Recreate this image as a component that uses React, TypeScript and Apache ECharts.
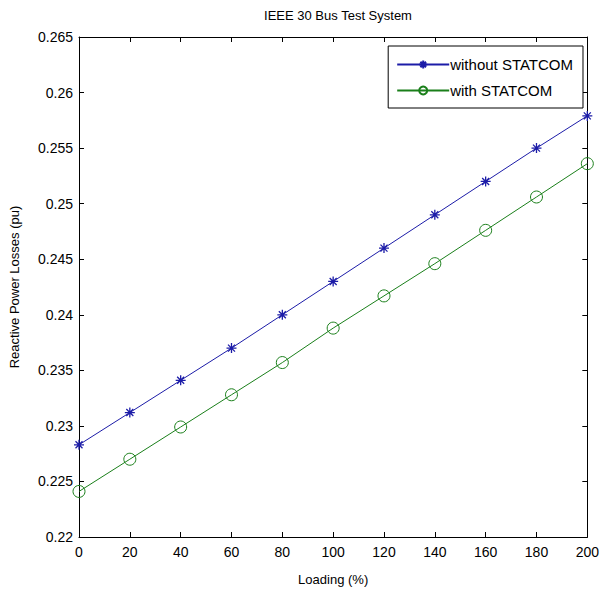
import React, { useEffect, useRef } from "react";
import * as echarts from "echarts";

const loading = [0, 20, 40, 60, 80, 100, 120, 140, 160, 180, 200];
const withoutStatcom = [0.2283, 0.2312, 0.2341, 0.2370, 0.2400, 0.2430, 0.2460, 0.2490, 0.2520, 0.2550, 0.2579];
const withStatcom = [0.2241, 0.2270, 0.2299, 0.2328, 0.2357, 0.2388, 0.2417, 0.2446, 0.2476, 0.2506, 0.2536];

const FONT = "Liberation Sans";
const STAR = "path://M0,5L10,5M5,0L5,10M1.5,1.5L8.5,8.5M1.5,8.5L8.5,1.5";
const BLUE = "#1c1ca8";
const GREEN = "#1a7f1a";

export default function App() {
  const ref = useRef<HTMLDivElement>(null);
  useEffect(() => {
    const chart = echarts.init(ref.current!, undefined, { renderer: "svg" });
    const axisCommon = {
      axisLine: { show: true, onZero: false, lineStyle: { color: "#000", width: 1 } },
      axisTick: { show: true, inside: true, length: 5, lineStyle: { color: "#000" } },
      splitLine: { show: false },
    };
    chart.setOption({
      animation: false,
      backgroundColor: "#fff",
      title: {
        text: "IEEE 30 Bus Test System",
        left: 333,
        textAlign: "center",
        top: 4,
        textStyle: { fontFamily: FONT, fontSize: 13, fontWeight: "normal", color: "#000" },
      },
      grid: { left: 77, right: 13, top: 37, bottom: 57 },
      legend: {
        right: 19,
        top: 46,
        orient: "vertical",
        backgroundColor: "#fff",
        borderColor: "#000",
        borderWidth: 1,
        borderRadius: 0,
        padding: [11, 10, 10, 8],
        itemGap: 11,
        itemWidth: 52,
        itemHeight: 10,
        textStyle: { fontFamily: FONT, fontSize: 15, color: "#000", padding: [0, 0, 0, -4] },
        data: ["without STATCOM", "with STATCOM"],
      },
      xAxis: [
        {
          type: "value",
          min: 0,
          max: 200,
          interval: 20,
          name: "Loading (%)",
          nameLocation: "middle",
          nameGap: 36,
          nameTextStyle: { fontFamily: FONT, fontSize: 13, color: "#000" },
          axisLabel: { fontFamily: FONT, fontSize: 14, color: "#000", margin: 8 },
          ...axisCommon,
        },
        {
          type: "value",
          position: "top",
          min: 0,
          max: 200,
          interval: 20,
          axisLabel: { show: false },
          ...axisCommon,
        },
      ],
      yAxis: [
        {
          type: "value",
          min: 0.22,
          max: 0.265,
          interval: 0.005,
          name: "Reactive Power Losses (pu)",
          nameLocation: "middle",
          nameGap: 58,
          nameTextStyle: { fontFamily: FONT, fontSize: 13, color: "#000" },
          axisLabel: {
            fontFamily: FONT,
            fontSize: 14,
            color: "#000",
            margin: 6,
            formatter: (v: number) => String(parseFloat(v.toFixed(4))),
          },
          ...axisCommon,
        },
        {
          type: "value",
          position: "right",
          min: 0.22,
          max: 0.265,
          interval: 0.005,
          axisLabel: { show: false },
          ...axisCommon,
        },
      ],
      series: [
        {
          name: "without STATCOM",
          type: "line",
          data: loading.map((x, i) => [x, withoutStatcom[i]]),
          symbol: STAR,
          symbolSize: 10,
          showAllSymbol: true,
          lineStyle: { color: BLUE, width: 1 },
          itemStyle: { color: "transparent", borderColor: BLUE, borderWidth: 1.3 },
        },
        {
          name: "with STATCOM",
          type: "line",
          data: loading.map((x, i) => [x, withStatcom[i]]),
          symbol: "circle",
          symbolSize: 12,
          showAllSymbol: true,
          lineStyle: { color: GREEN, width: 1 },
          itemStyle: { color: "transparent", borderColor: GREEN, borderWidth: 1 },
        },
      ],
    });
    return () => chart.dispose();
  }, []);
  return <div ref={ref} style={{ width: 602, height: 594, position: "absolute", left: 0, top: 0 }} />;
}
